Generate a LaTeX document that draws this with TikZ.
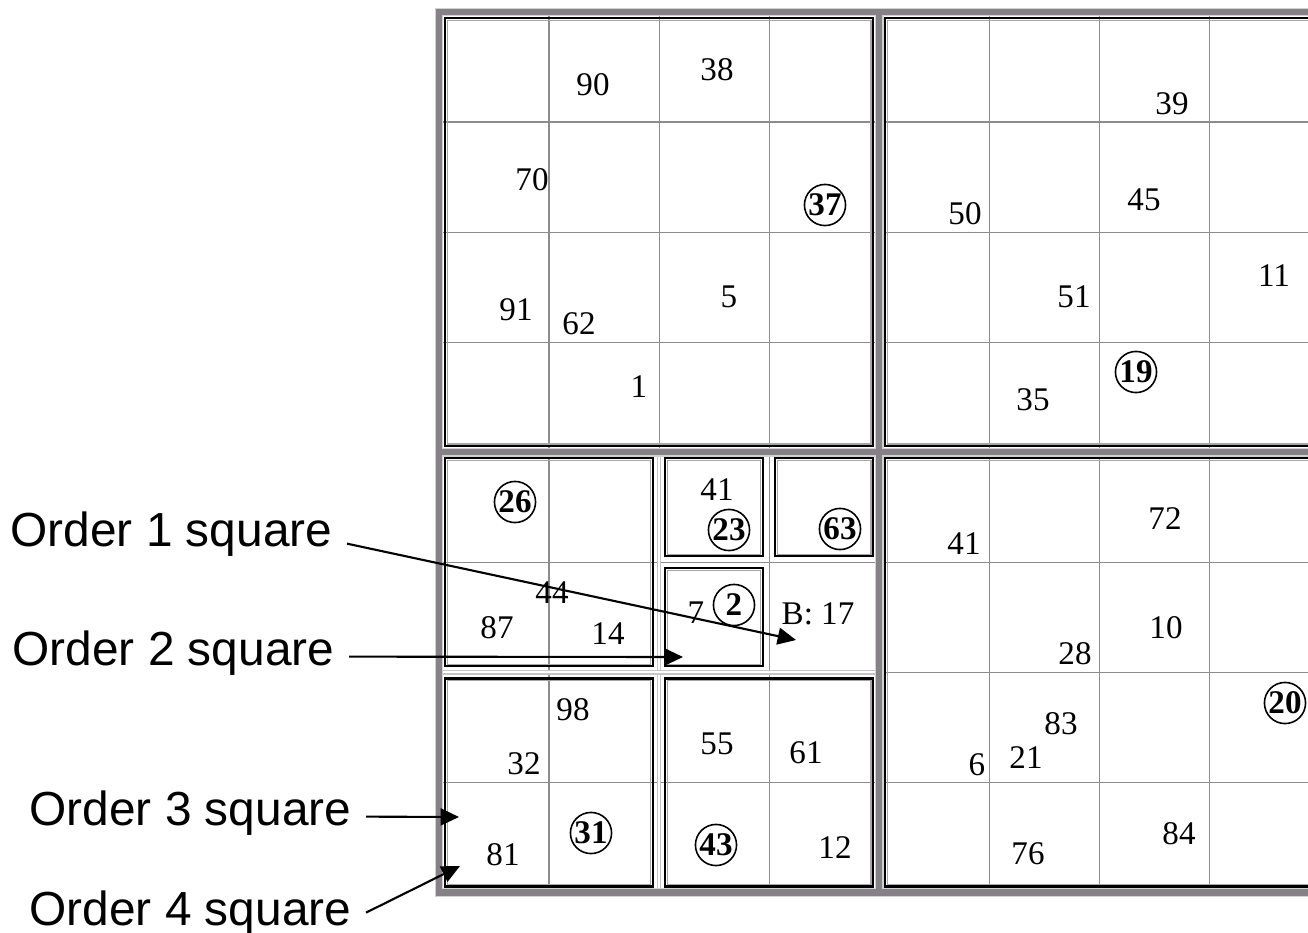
\documentclass[tikz,border=0pt]{standalone}
\usepackage{fontspec}
\setmainfont{Liberation Serif}
\setsansfont{Liberation Sans}
\usetikzlibrary{arrows.meta}
\definecolor{band}{RGB}{134,129,134}
\definecolor{gridc}{RGB}{140,140,140}
\tikzset{
  cellline/.style={draw=gridc,line width=0.35pt},
  bandline/.style={draw=band,line width=1.8pt},
  bandedge/.style={draw=gray!35,line width=2.5pt},
  sepline/.style={draw=gray!45,line width=0.3pt,double=white,double distance=0.6pt},
  % framed squares: black line with a thin grey line inside
  blk/.style={draw=black,line width=0.6pt},
  blkin/.style={draw=gray!70,line width=0.3pt},
  num/.style={inner sep=0pt,font=\fontsize{9.4}{11}\selectfont},
  cnum/.style={num,circle,draw,line width=0.45pt,minimum size=11.7pt,
    font=\bfseries\fontsize{9.4}{11}\selectfont},
  lab/.style={inner xsep=4pt,inner ysep=0pt,anchor=base east,
    font=\sffamily\fontsize{13.6}{16}\selectfont},
  arr/.style={-{Triangle[length=5.2pt,width=4.8pt]},line width=0.6pt}
}
\begin{document}
\begin{tikzpicture}[x=0.01cm,y=-0.01cm]
  \useasboundingbox (0,0) rectangle (1308,933);
  \clip (0,0) rectangle (1308,933);
  % the board, 8x8 cells of 110px
  \begin{scope}[shift={(439,12)},x=1.1cm,y=-1.1cm]
    \foreach \i in {1,...,7} {
      \draw[cellline] (\i,0) -- (\i,8);
      \draw[cellline] (0,\i) -- (8,\i);
    }
    \draw[sepline] (2,4) -- (2,8);
    \draw[sepline] (0,6) -- (4,6);
    \draw[bandedge] (0,0) rectangle (8,8) (4,0) -- (4,8) (0,4) -- (8,4);
    \draw[bandline] (0,0) rectangle (8,8) (4,0) -- (4,8) (0,4) -- (8,4);
    \foreach \xa/\ya/\xb/\yb in {0/0/4/4,4/0/8/4,4/4/8/8,0/4/2/6,0/6/2/8,
        2/6/4/8,2/4/3/5,3/4/4/5,2/5/3/6} {
      \draw[blk] (\xa+.055,\ya+.055) rectangle (\xb-.055,\yb-.055);
      \draw[blkin] (\xa+.075,\ya+.075) rectangle (\xb-.075,\yb-.075);
    }
  \end{scope}
  % top left
  \node[num] (n90) at (593,85) {90};
  \node[num] (n38) at (717,70) {38};
  \node[num] (n70) at (532,180) {70};
  \node[cnum] (n37) at (825,205) {37};
  \node[num] (n91) at (516,310) {91};
  \node[num] (n62) at (579,324) {62};
  \node[num] (n5) at (729,297) {5};
  \node[num] (n1) at (639,387) {1};
  % top right
  \node[num] (n39) at (1172,104) {39};
  \node[num] (n50) at (965,214) {50};
  \node[num] (n45) at (1144,200) {45};
  \node[num] (n51) at (1074,297) {51};
  \node[num] (n11) at (1274,276) {11};
  \node[cnum] (n19) at (1136,372) {19};
  \node[num] (n35) at (1033,400) {35};
  % bottom left
  \node[cnum] (n26) at (515,502) {26};
  \node[num] (n41a) at (717,490) {41};
  \node[cnum] (n23) at (729,530) {23};
  \node[cnum] (n63) at (840,529) {63};
  \node[num] (n44) at (552,593) {44};
  \node[num] (n87) at (497,628) {87};
  \node[num] (n14) at (608,634) {14};
  \node[num] (n7) at (696,613) {7};
  \node[cnum] (n2) at (734,605) {2};
  \node[num] (b17) at (818,614) {B: 17};
  \node[num] (n98) at (573,710) {98};
  \node[num] (n32) at (524,764) {32};
  \node[num] (n55) at (717,744) {55};
  \node[num] (n61) at (806,753) {61};
  \node[num] (n81) at (503,855) {81};
  \node[cnum] (n31) at (591,833) {31};
  \node[cnum] (n43) at (716,845) {43};
  \node[num] (n12) at (835,848) {12};
  % bottom right
  \node[num] (n41b) at (964,544) {41};
  \node[num] (n72) at (1165,519) {72};
  \node[num] (n10) at (1166,628) {10};
  \node[num] (n28) at (1075,654) {28};
  \node[cnum] (n20) at (1285,703) {20};
  \node[num] (n83) at (1061,724) {83};
  \node[num] (n6) at (977,765) {6};
  \node[num] (n21) at (1026,758) {21};
  \node[num] (n76) at (1028,854) {76};
  \node[num] (n84) at (1179,834) {84};
  % labels
  \node[lab] (o1) at (347,546) {Order 1 square};
  \node[lab] (o2) at (349,665) {Order 2 square};
  \node[lab] (o3) at (366,825) {Order 3 square};
  \node[lab] (o4) at (366,925) {Order 4 square};
  \coordinate (t1) at (796,640);
  \coordinate (t2) at (683,657);
  \coordinate (t3) at (459,817);
  \coordinate (t4) at (460,866);
  \draw[arr] ([yshift=-0.1cm]o1.east) -- (t1);
  \draw[arr] ([yshift=-0.04cm]o2.east) -- (t2);
  \draw[arr] ([yshift=-0.04cm]o3.east) -- (t3);
  \draw[arr] (o4.east) -- (t4);
\end{tikzpicture}
\end{document}
